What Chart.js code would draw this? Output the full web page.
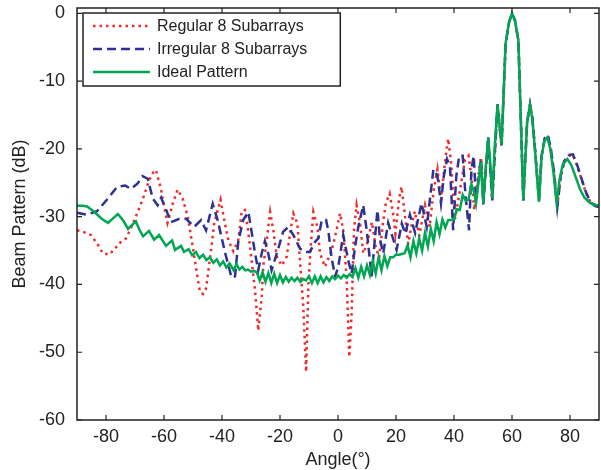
<!DOCTYPE html>
<html>
<head>
<meta charset="utf-8">
<script src="https://cdn.jsdelivr.net/npm/chart.js@4.4.1/dist/chart.umd.min.js"></script>
<style>
    body { margin: 0; background: #fff; }
    canvas { display: block; }
</style>
</head>
<body>
<canvas id="beamChart" width="601" height="470" style="width:601px;height:470px"></canvas>
<script>
// Regular 8 subarrays (red dotted)
const regularAngles = [-90, -87.5, -85.2, -83, -81.1, -78.9, -77, -75.4, -73.1, -71.5,
    -70.2, -67.4, -65.1, -63.8, -62.8, -61.0, -59.9, -58.8, -57.0, -55.3,
    -53.6, -51.8, -50.1, -49.0, -47.6, -46.5, -45.5, -43.8, -42.7, -40.5,
    -39.0, -37.8, -36.1, -34.4, -33.2, -32.1, -31.0, -29.8, -28.6, -27.5,
    -26.3, -25.8, -24.6, -23.4, -22.3, -21.1, -19.4, -17.7, -16.6, -15.4,
    -14.0, -13.1, -12.0, -11.0, -10.2, -9.4, -8.5, -7.1, -6.2, -4.5,
    -2.2, -0.5, 0.7, 1.8, 3.0, 3.9, 4.7, 5.5, 6.4, 7.6,
    8.7, 10.0, 11.7, 13.0, 14.2, 15.5, 16.5, 17.8, 19.0, 19.8,
    21.0, 21.9, 23.0, 24.2, 25.5, 26.5, 28.0, 30.0, 31.6, 33.0,
    34.3, 35.5, 37.0, 38.0, 39.0, 40.3, 42.1, 43.8, 45.0, 46.0,
    47.0, 48.2, 49.3, 50.2, 51.8, 53.2, 55.0, 56.4, 57.8, 59,
    60, 61, 62.2, 63.9, 65.2, 66.2, 67, 68, 69.3, 70.2,
    71.3, 72.3, 73.3, 74.5, 75.6, 76.8, 78.0, 79.5, 81.0, 82.5,
    84.0, 85.5, 87.0, 88.5, 90];
const regularDb = [-32.0, -32.3, -32.7, -34.0, -35.4, -35.6, -34.8, -33.9, -33.2, -31.8,
    -30.5, -27.5, -24.6, -23.5, -23.1, -26.0, -28.6, -30.9, -28.1, -26.0,
    -27.3, -30.0, -34.4, -37.4, -41.1, -41.4, -40.6, -35.0, -31.0, -27.5,
    -31.0, -33.5, -35.1, -33.5, -29.2, -29.0, -32.0, -36.4, -40.9, -46.8,
    -41.8, -37.4, -33.5, -29.3, -32.0, -35.9, -37.2, -35.9, -32.7, -29.5,
    -31.0, -36.6, -43.0, -52.9, -40.1, -34.4, -29.3, -31.5, -35.4, -37.4,
    -35.0, -32.0, -29.5, -32.0, -39.3, -50.7, -44.3, -32.0, -28.3, -31.0,
    -35.4, -34.0, -30.8, -34.5, -36.0, -31.0, -28.0, -26.6, -29.5, -32.5,
    -27.5, -25.6, -29.5, -34.0, -31.0, -29.2, -32.8, -28.3, -31.5, -26.0,
    -23.0, -27.5, -21.5, -18.5, -22.0, -30.4, -26.0, -21.6, -21.0, -24.0,
    -29.0, -24.5, -21.2, -27.0, -18.6, -27.5, -13.6, -19.6, -4.5, -1.3,
    0, -1.0, -4.0, -27.6, -16.0, -13.4, -15.3, -20.3, -27.5, -21.0,
    -18.5, -18.0, -19.8, -23.5, -28.5, -24.0, -22.0, -21.0, -20.9, -22.5,
    -24.5, -26.5, -27.8, -28.2, -28.3];

// Irregular 8 subarrays (blue dashed)
const irregularAngles = [-90, -86.6, -83.1, -79.7, -76.2, -73.4, -71.4, -69.1, -67.4, -65.6,
    -63.9, -62.2, -61.0, -59.9, -57.6, -54.7, -52.4, -49.6, -47.2, -45.5,
    -43.2, -41.5, -39.0, -36.7, -35.5, -34.4, -32.7, -30.9, -29.8, -28.6,
    -27.5, -26.3, -25.2, -24.0, -22.9, -20.6, -18.9, -17.1, -15.4, -13.1,
    -11.4, -9.7, -7.9, -6.8, -5.6, -4.1, -3.3, -2.2, -1.0, 0.1,
    1.8, 3.5, 4.7, 5.9, 7.0, 8.7, 9.9, 11.6, 12.8, 13.6,
    14.5, 15.6, 17.3, 19.1, 20.2, 22.0, 23.2, 24.8, 26.6, 28.8,
    30.6, 32.9, 34.3, 35.5, 36.5, 37.6, 38.6, 39.7, 40.8, 41.8,
    43.0, 44.0, 45.2, 46.0, 46.8, 47.6, 49.3, 50.1, 51.8, 53.2,
    55.0, 56.4, 57.8, 59, 60, 61, 62.2, 63.9, 65.2, 66.2,
    67, 68, 69.3, 70.2, 71.3, 72.3, 73.3, 74.5, 75.6, 76.8,
    78.0, 79.5, 81.0, 82.5, 84.0, 85.5, 87.0, 88.5, 90];
const irregularDb = [-29.4, -29.7, -29.2, -27.5, -25.6, -25.4, -25.9, -25.1, -24.0, -24.4,
    -27.3, -28.3, -27.2, -28.3, -30.8, -30.3, -30.3, -31.5, -30.5, -32.0,
    -28.1, -30.5, -35.2, -39.0, -38.8, -33.7, -30.5, -29.3, -32.2, -35.4,
    -37.9, -35.4, -33.6, -35.5, -37.9, -34.7, -32.2, -31.5, -32.7, -34.7,
    -35.2, -35.2, -33.7, -33.2, -30.5, -30.5, -32.2, -36.1, -38.8, -37.4,
    -32.7, -36.4, -38.4, -34.4, -31.5, -28.3, -32.0, -38.8, -32.9, -29.0,
    -33.4, -35.4, -30.9, -33.4, -34.9, -31.0, -32.5, -29.7, -32.4, -28.0,
    -31.5, -23.0, -24.0, -28.0, -24.0, -21.5, -22.5, -32.0, -24.0, -21.0,
    -21.0, -27.0, -32.0, -23.0, -21.0, -27.5, -21.5, -28.2, -18.2, -27.6,
    -13.4, -19.5, -4.4, -1.3, 0, -1.0, -4.0, -27.6, -16.1, -13.4,
    -15.4, -20.4, -27.6, -21.0, -18.4, -17.9, -19.7, -23.4, -28.6, -24.0,
    -21.8, -20.9, -20.8, -22.4, -24.4, -26.4, -27.8, -28.4, -28.6];

// Ideal pattern (green solid)
const idealAngles = [-90, -88, -86.5, -84, -81.5, -79.3, -77.5, -75.9, -74, -72.4,
    -71, -69.7, -68.4, -67.2, -65.2, -63.4, -61.7, -59.3, -57.2, -56.2,
    -54.1, -53.1, -51.5, -50.3, -49, -47.8, -46.5, -45.4, -44.2, -43,
    -41.8, -40.7, -39.6, -38.5, -37.4,
    -36, -35, -34, -33, -32, -31, -30, -29, -28, -27,
    -26, -25, -24, -23, -22, -21, -20, -19, -18, -17,
    -16, -15, -14, -13, -12, -11, -10, -9, -8, -7,
    -6, -5, -4, -3, -2, -1, 0, 1, 2, 3,
    4, 5, 6, 7, 8, 9, 10, 11, 12, 13,
    14, 15, 16, 17, 18, 19, 20, 21, 22, 23,
    24, 25, 26, 27, 28, 29, 30, 31, 32, 33,
    34, 35, 36, 37, 38, 39, 40, 41, 42, 43,
    44, 45, 46, 47, 47.6, 48.3, 49.3, 50.1, 51, 51.8,
    52.5, 53.2, 54, 55, 55.7, 56.4, 57.8, 59, 60, 61,
    62.2, 63.9, 65.2, 66.2, 67, 68, 69.3, 70.2, 71.2, 72.2,
    73.2, 74.3, 75.4, 76.4, 77.5, 79.1, 80.5, 82, 83.5, 85,
    85.8, 87, 88.5, 90];
const idealDb = [-28.4, -28.4, -28.5, -29.3, -30.3, -30.9, -30.2, -29.6, -30.6, -31.8,
    -31.2, -30.7, -32.0, -32.9, -32.1, -33.4, -32.7, -34.3, -33.5, -34.9,
    -34.3, -35.2, -34.8, -35.7, -35.2, -36.1, -35.6, -36.4, -36.0, -36.8,
    -36.3, -37.2, -36.6, -37.5, -36.9,
    -37.9, -37.0, -37.8, -37.4, -37.9, -37.8, -38.1, -38.0, -38.2, -39.4,
    -38.2, -39.6, -38.3, -39.8, -38.4, -39.8, -38.6, -39.7, -38.9, -39.6,
    -39.0, -39.5, -39.0, -39.6, -39.2, -39.4, -38.8, -39.8, -38.8, -39.8,
    -38.8, -39.7, -38.9, -39.5, -38.8, -39.2, -38.7, -39.1, -38.6, -39.0,
    -38.5, -38.9, -37.6, -39.0, -37.4, -38.8, -37.2, -38.6, -36.6, -38.4,
    -36.0, -37.9, -35.8, -37.3, -36.0, -36.0, -35.6, -35.6, -35.5, -35.4,
    -34.2, -36.0, -33.6, -35.4, -33.2, -35.0, -32.4, -34.4, -31.8, -33.6,
    -30.8, -32.6, -30.4, -31.6, -30.5, -30.5, -30.4, -28.9, -29.0, -26.8,
    -27.6, -27.5, -25.2, -26.5, -28.0, -25.5, -21.9, -28.0, -22.5, -18.4,
    -22.0, -27.3, -20.0, -13.5, -16.5, -19.4, -4.4, -1.2, 0, -1.0,
    -4.0, -27.5, -16.2, -13.5, -15.5, -20.5, -27.8, -21.1, -18.8, -18.3,
    -20.0, -23.5, -28.0, -24.5, -22.3, -21.5, -22.4, -24.2, -26.0, -27.2,
    -27.5, -28.0, -28.3, -28.3];

const seriesLabels = ['Regular 8 Subarrays', 'Irregular 8 Subarrays', 'Ideal Pattern'];
const xTicks = [-80, -60, -40, -20, 0, 20, 40, 60, 80];
const yTicks = [-60, -50, -40, -30, -20, -10, 0];

const axisColor = '#222222';
const fontFamily = "'Liberation Sans', Arial, Helvetica, sans-serif";

function toPoints(angles, values) {
    return angles.map(function(a, i) { return { x: a, y: values[i] }; });
}

// frame and inward tick marks, like the original plot box
const framePlugin = {
    id: 'frame',
    afterDatasetsDraw: function(chart) {
        const ctx = chart.ctx;
        const area = chart.chartArea;
        const xs = chart.scales.x;
        const ys = chart.scales.y;
        const len = 5;
        ctx.save();
        ctx.strokeStyle = axisColor;
        ctx.lineWidth = 1.5;
        ctx.setLineDash([]);
        ctx.strokeRect(area.left, area.top, area.right - area.left, area.bottom - area.top);
        ctx.lineWidth = 1.2;
        ctx.beginPath();
        xTicks.forEach(function(v) {
            const px = xs.getPixelForValue(v);
            ctx.moveTo(px, area.bottom); ctx.lineTo(px, area.bottom - len);
            ctx.moveTo(px, area.top); ctx.lineTo(px, area.top + len);
        });
        yTicks.forEach(function(v) {
            const py = ys.getPixelForValue(v);
            ctx.moveTo(area.left, py); ctx.lineTo(area.left + len, py);
            ctx.moveTo(area.right, py); ctx.lineTo(area.right - len, py);
        });
        ctx.stroke();
        ctx.restore();
    }
};

// legend box drawn inside the plot, top left
const boxLegendPlugin = {
    id: 'boxLegend',
    afterDraw: function(chart) {
        const ctx = chart.ctx;
        const area = chart.chartArea;
        const sets = chart.data.datasets;
        ctx.save();
        ctx.font = '16px ' + fontFamily;
        let maxW = 0;
        sets.forEach(function(ds) { maxW = Math.max(maxW, ctx.measureText(ds.label).width); });
        const bx = area.left + 6;
        const by = area.top + 5;
        const bw = 74 + maxW + 33;
        const bh = 73;
        ctx.fillStyle = '#ffffff';
        ctx.fillRect(bx, by, bw, bh);
        ctx.strokeStyle = axisColor;
        ctx.lineWidth = 1.5;
        ctx.setLineDash([]);
        ctx.strokeRect(bx, by, bw, bh);
        sets.forEach(function(ds, i) {
            const ry = by + 13 + i * 23;
            ctx.strokeStyle = ds.borderColor;
            ctx.lineWidth = ds.borderWidth;
            ctx.setLineDash(ds.borderDash || []);
            ctx.beginPath();
            ctx.moveTo(bx + 10, ry);
            ctx.lineTo(bx + 67, ry);
            ctx.stroke();
            ctx.fillStyle = axisColor;
            ctx.textBaseline = 'middle';
            ctx.textAlign = 'left';
            ctx.fillText(ds.label, bx + 74, ry + 1);
        });
        ctx.restore();
    }
};

const ctx = document.getElementById('beamChart');
const beamChart = new Chart(ctx, {
    type: 'line',
    data: {
        datasets: [{
            label: seriesLabels[0],
            data: toPoints(regularAngles, regularDb),
            borderColor: '#ee2b2b',
            borderWidth: 2.5,
            borderDash: [2.5, 4],
            order: 2
        }, {
            label: seriesLabels[1],
            data: toPoints(irregularAngles, irregularDb),
            borderColor: '#2e3192',
            borderWidth: 2.5,
            borderDash: [9, 5],
            order: 1
        }, {
            label: seriesLabels[2],
            data: toPoints(idealAngles, idealDb),
            borderColor: '#00a651',
            borderWidth: 2.5,
            order: 0
        }]
    },
    options: {
        responsive: false,
        animation: false,
        devicePixelRatio: 1,
        layout: { padding: { top: 8, right: 2, left: 0, bottom: 0 } },
        elements: {
            point: { radius: 0 },
            line: { tension: 0, fill: false }
        },
        plugins: {
            legend: { display: false },
            tooltip: { enabled: false }
        },
        scales: {
            x: {
                type: 'linear',
                min: -90,
                max: 90,
                grid: { display: false, drawTicks: false },
                border: { display: false },
                ticks: {
                    color: axisColor,
                    padding: 6,
                    maxRotation: 0,
                    font: { family: fontFamily, size: 18 }
                },
                title: {
                    display: true,
                    text: 'Angle(°)',
                    color: axisColor,
                    font: { family: fontFamily, size: 18, lineHeight: 1.1 },
                    padding: { top: 0, bottom: 0 }
                },
                afterBuildTicks: function(s) { s.ticks = xTicks.map(function(v) { return { value: v }; }); },
                afterFit: function(s) { s.height = 50; s.paddingLeft = 0; s.paddingRight = 0; }
            },
            y: {
                type: 'linear',
                min: -60,
                max: 0.8,
                grid: { display: false, drawTicks: false },
                border: { display: false },
                ticks: {
                    color: axisColor,
                    padding: 12,
                    font: { family: fontFamily, size: 18 }
                },
                title: {
                    display: true,
                    text: 'Beam Pattern (dB)',
                    color: axisColor,
                    font: { family: fontFamily, size: 18, lineHeight: 1.2 },
                    padding: { top: 9, bottom: 0 }
                },
                afterBuildTicks: function(s) { s.ticks = yTicks.map(function(v) { return { value: v }; }); },
                afterFit: function(s) { s.width = 77; s.paddingTop = 0; s.paddingBottom = 0; }
            }
        }
    },
    plugins: [framePlugin, boxLegendPlugin]
});
</script>
</body>
</html>
